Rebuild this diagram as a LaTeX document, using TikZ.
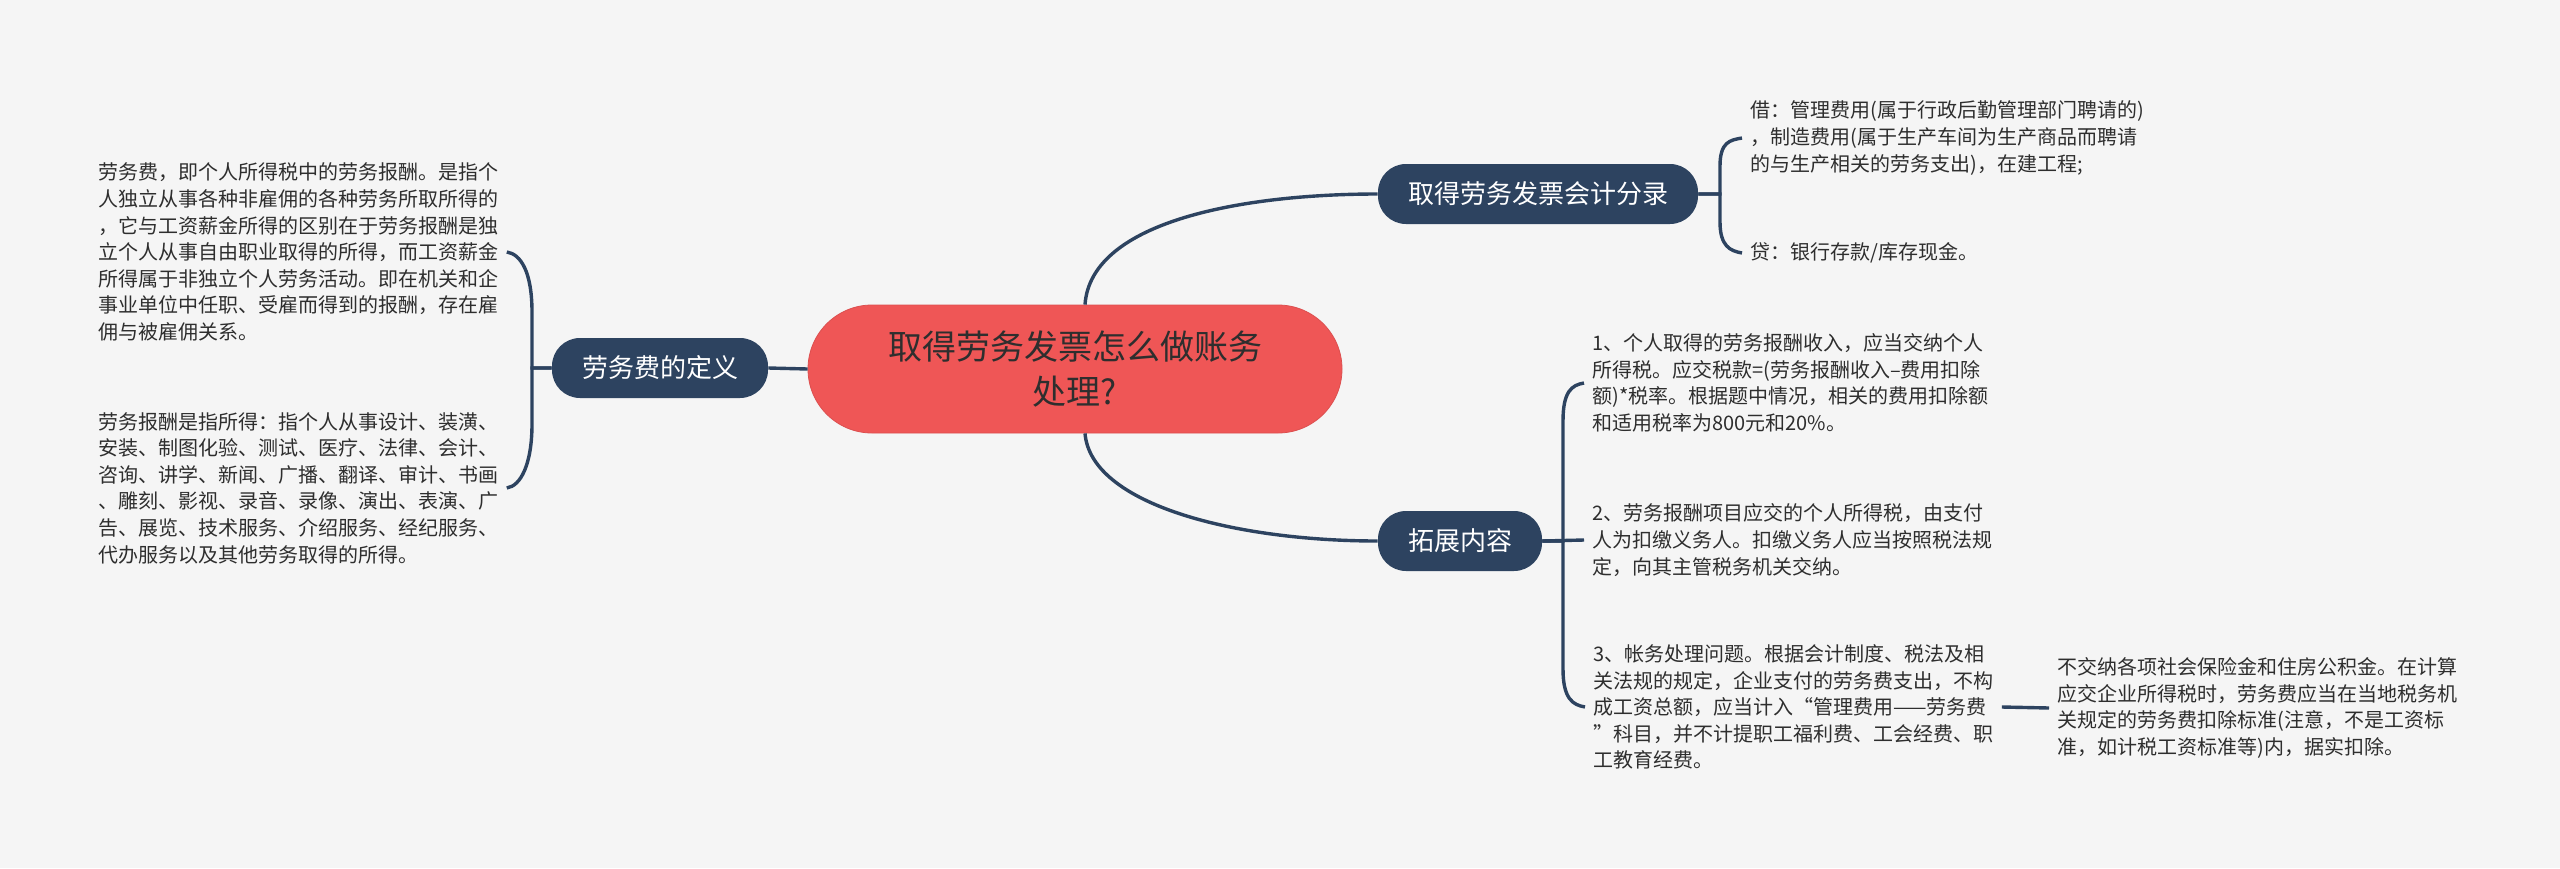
\documentclass[tikz,border=0pt]{standalone}
\usepackage{fontspec}
\newfontfamily\cjk{Noto Sans CJK SC}
\usepackage{tikz}
\usetikzlibrary{positioning,calc}
\definecolor{paper}{HTML}{F5F5F5}
\definecolor{rootred}{HTML}{EF5656}
\definecolor{navy}{HTML}{2D4360}
\definecolor{ink}{HTML}{2E2E2E}
\tikzset{
  root_box/.style={fill=rootred,draw=rootred!92!black,rounded corners=32pt,
    minimum width=267pt,minimum height=64pt,align=center,text=ink,
    font=\cjk\fontsize{17pt}{22.5pt}\selectfont},
  topic_box/.style={fill=navy,rounded corners=14pt,minimum height=30pt,
    inner xsep=15pt,text=white,font=\cjk\fontsize{13pt}{15pt}\selectfont},
  note_txt/.style={align=left,inner sep=4pt,anchor=west,text=ink,
    font=\cjk\fontsize{10pt}{13.3pt}\selectfont},
  link/.style={draw=navy,line width=1.7pt},
}

\begin{document}
\begin{tikzpicture}[x=0.5pt,y=-0.5pt]
  \fill[paper] (0,0) rectangle (2560,868);
  \useasboundingbox (0,0) rectangle (2560,868);

  \node[root_box] (root) at (1075,369) {取得劳务发票怎么做账务\\处理?};
  \node[topic_box] (def) at (660,368) {劳务费的定义};
  \node[topic_box] (acc) at (1538,194) {取得劳务发票会计分录};
  \node[topic_box] (ext) at (1460,541) {拓展内容};

  % left side
  \node[note_txt] (def1) at (90,252) {劳务费，即个人所得税中的劳务报酬。是指个\\人独立从事各种非雇佣的各种劳务所取所得的\\，它与工资薪金所得的区别在于劳务报酬是独\\立个人从事自由职业取得的所得，而工资薪金\\所得属于非独立个人劳务活动。即在机关和企\\事业单位中任职、受雇而得到的报酬，存在雇\\佣与被雇佣关系。};
  \node[note_txt] (def2) at (90,488) {劳务报酬是指所得：指个人从事设计、装潢、\\安装、制图化验、测试、医疗、法律、会计、\\咨询、讲学、新闻、广播、翻译、审计、书画\\、雕刻、影视、录音、录像、演出、表演、广\\告、展览、技术服务、介绍服务、经纪服务、\\代办服务以及其他劳务取得的所得。};

  % right side
  \node[note_txt] (acc1) at (1742,138) {借：管理费用(属于行政后勤管理部门聘请的)\\，制造费用(属于生产车间为生产商品而聘请\\的与生产相关的劳务支出)，在建工程;};
  \node[note_txt] (acc2) at (1742,253) {贷：银行存款/库存现金。};

  \node[note_txt] (ext1) at (1584,383) {1、个人取得的劳务报酬收入，应当交纳个人\\所得税。应交税款=(劳务报酬收入–费用扣除\\额)*税率。根据题中情况，相关的费用扣除额\\和适用税率为800元和20\%。};
  \node[note_txt] (ext2) at (1584,540) {2、劳务报酬项目应交的个人所得税，由支付\\人为扣缴义务人。扣缴义务人应当按照税法规\\定，向其主管税务机关交纳。};
  \node[note_txt] (ext3) at (1585,707) {3、帐务处理问题。根据会计制度、税法及相\\关法规的规定，企业支付的劳务费支出，不构\\成工资总额，应当计入“管理费用——劳务费\\”科目，并不计提职工福利费、工会经费、职\\工教育经费。};
  \node[note_txt] (ext3a) at (2049,708) {不交纳各项社会保险金和住房公积金。在计算\\应交企业所得税时，劳务费应当在当地税务机\\关规定的劳务费扣除标准(注意，不是工资标\\准，如计税工资标准等)内，据实扣除。};

  \coordinate (lbr) at (532,368);
  \coordinate (abr) at (1720,194);
  \coordinate (ebr) at (1563,541);

  \draw[link] (root.west) -- (def.east);
  \draw[link] ([xshift=5pt]root.north) .. controls +(6,-85) and +(-130,0) .. (acc.west);
  \draw[link] ([xshift=5pt]root.south) .. controls +(6,72) and +(-140,0) .. (ext.west);

  \draw[link] (def.west) -- (lbr) -- ++(0,-56) .. controls +(0,-40) and +(14,2) .. (def1.east);
  \draw[link] (def.west) -- (lbr) -- ++(0,56) .. controls +(0,40) and +(14,-2) .. (def2.east);

  \draw[link] (acc.east) -- (abr) -- ++(0,-28) .. controls +(0,-24) and +(-12,2) .. (acc1.west);
  \draw[link] (acc.east) -- (abr) -- ++(0,28) .. controls +(0,24) and +(-12,-2) .. (acc2.west);

  \draw[link] (ext.east) -- (ebr) -- ++(0,-120) .. controls +(0,-30) and +(-12,2) .. (ext1.west);
  \draw[link] (ext.east) -- (ext2.west);
  \draw[link] (ext.east) -- (ebr) -- ++(0,128) .. controls +(0,30) and +(-12,-2) .. (ext3.west);
  \draw[link] (ext3.east) -- (ext3a.west);
\end{tikzpicture}
\end{document}
